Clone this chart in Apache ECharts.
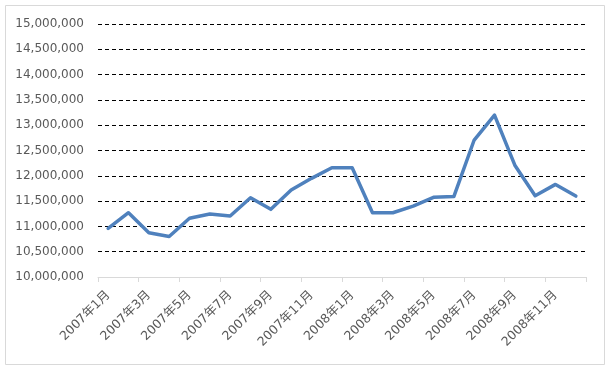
<!DOCTYPE html>
<html>
<head>
<meta charset="utf-8">
<script src="https://cdn.jsdelivr.net/npm/echarts@6/dist/echarts.min.js"></script>
<style>html,body{margin:0;padding:0;background:#fff}#c{width:607px;height:367px}</style>
</head>
<body>
<div id="c"></div>
<script>
var categories = ['2007年1月','2007年2月','2007年3月','2007年4月','2007年5月','2007年6月','2007年7月','2007年8月','2007年9月','2007年10月','2007年11月','2007年12月',
'2008年1月','2008年2月','2008年3月','2008年4月','2008年5月','2008年6月','2008年7月','2008年8月','2008年9月','2008年10月','2008年11月','2008年12月'];
var values = [10960000, 11270000, 10875000, 10800000, 11160000, 11245000, 11205000, 11567000, 11337000, 11720000, 11950000, 12160000,
12160000, 11270000, 11270000, 11400000, 11575000, 11590000, 12707000, 13200000, 12210000, 11607000, 11830000, 11600000];
var yMin = 10000000, yMax = 15000000, yStep = 500000;

var font = "'DejaVu Sans', 'Noto Sans CJK JP', sans-serif";
var chart = echarts.init(document.getElementById('c'), null, {renderer: 'canvas'});
chart.setOption({
  animation: false,
  backgroundColor: '#fff',
  graphic: [{
    type: 'rect', shape: {x: 5.5, y: 5.5, width: 599, height: 359},
    style: {fill: 'none', stroke: '#d9d9d9', lineWidth: 1}, z: -1
  }],
  grid: {left: 98, right: 21, top: 24, bottom: 90, containLabel: false},
  xAxis: {
    type: 'category', data: categories, boundaryGap: true,
    axisLine: {show: true, lineStyle: {color: '#d9d9d9', width: 1}},
    axisTick: {show: true, interval: 1, length: 5, lineStyle: {color: '#d9d9d9'}},
    axisLabel: {interval: 1, rotate: 45, margin: 16, color: '#595959', fontSize: 12.5, fontFamily: font},
    splitLine: {show: false}
  },
  yAxis: {
    type: 'value', min: yMin, max: yMax, interval: yStep,
    axisLine: {show: false}, axisTick: {show: false},
    axisLabel: {color: '#595959', fontSize: 12, fontFamily: font, margin: 14,
      formatter: function (v) { return v.toLocaleString('en-US'); }},
    splitLine: {show: true, showMinLine: false, lineStyle: {color: '#000', type: [4, 3], width: 1}}
  },
  series: [{
    type: 'line', data: values, showSymbol: false, symbol: 'none',
    lineStyle: {color: '#4f81bd', width: 3.5, join: 'round', cap: 'round'},
    itemStyle: {color: '#4f81bd'}
  }]
});
</script>
</body>
</html>
